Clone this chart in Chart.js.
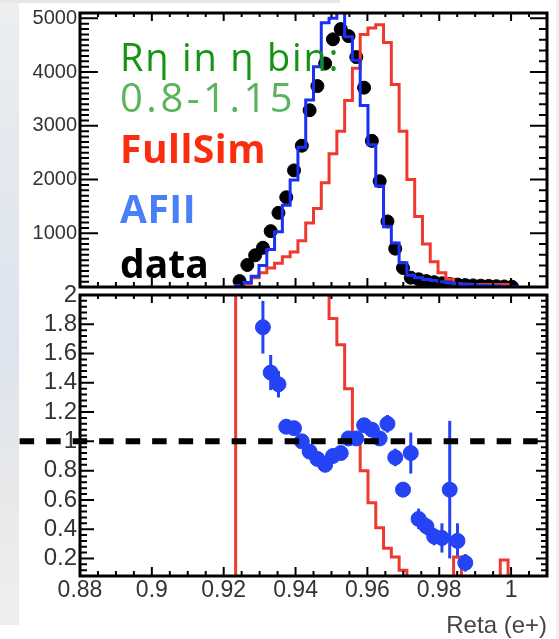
<!DOCTYPE html>
<html>
<head>
<meta charset="utf-8">
<script src="https://cdn.jsdelivr.net/npm/chart.js@4.4.1/dist/chart.umd.min.js"></script>
<style>
  html, body { margin: 0; padding: 0; background: #fff; }
  #page { position: relative; width: 559px; height: 639px; overflow: hidden; background: #fff; }
  #leftStrip { position: absolute; left: 0; top: 0; width: 19px; height: 625px;
    background: linear-gradient(to bottom, #eceef0 0%, #e3e8ef 30%, #dde4ee 55%, #e8e9ea 80%, #efefef 100%); }
  #topStrip { position: absolute; left: 0; top: 0; width: 340px; height: 3px; background: #e6e8e6; }
  #rightStrip { position: absolute; left: 556px; top: 0; width: 3px; height: 639px; background: #f2f2f2; }
  canvas { position: absolute; left: 0; }
  #upper { top: 0; }
  #lower { top: 280px; }
  .note { position: absolute; left: 120px; line-height: 1; white-space: nowrap; font-family: "Open Sans", sans-serif; }
</style>
</head>
<body>
<div id="page">
  <div id="leftStrip"></div>
  <div id="topStrip"></div>
  <div id="rightStrip"></div>
  <canvas id="upper" width="559" height="300"></canvas>
  <canvas id="lower" width="559" height="359"></canvas>
  <div class="note" style="top:37px; font-size:38px; letter-spacing:1.8px; color:#139413;">Rη in η bin:</div>
  <div class="note" style="top:77px; font-size:40px; letter-spacing:3.5px; color:#5ab45a;">0.8-1.15</div>
  <div class="note" style="top:128px; font-size:39px; font-weight:bold; letter-spacing:0.5px; color:#fa2d0f;">FullSim</div>
  <div class="note" style="top:188px; font-size:39px; font-weight:bold; letter-spacing:0.5px; color:#4a80f5;">AFII</div>
  <div class="note" style="top:243px; font-size:39px; font-weight:bold; color:#000;">data</div>
</div>
<script>
// binning of the Reta histograms (60 bins over 0.88 - 1.01), arrays start at bin 20
const binLow = 0.88;
const binWidth = 0.13 / 60;
const firstBin = 20;

const fullSimCounts = [30, 60, 174, 264, 354, 444, 563, 653, 863, 1192, 1462, 1942,
  2482, 2900, 3470, 4070, 4700, 4820, 4880, 4550, 3770, 2900, 2000, 1310,
  800, 470, 264, 144, 60, 50, 45, 45, 45, 45, 45, 0];
const afiiCounts = [30, 84, 200, 400, 700, 1030, 1520, 1990, 2600, 3480, 4100, 4920,
  5000, 5130, 4660, 4220, 3380, 2650, 1880, 1120, 820, 450, 220, 170,
  140, 120, 100, 80, 60, 50, 40, 30, 25, 20, 10, 10];
const dataCounts = [110, 410, 590, 730, 1040, 1380, 1670, 2170, 2630, 3290, 3740, 4160,
  4610, 4800, 4670, 4280, 3710, 2720, 1970, 1220, 714, 354, 174, 144,
  110, 90, 70, 55, 45, 35, 30, 25, 20, 15, 10, 5];

// lower pad: data / FullSim (red steps) and data / AFII (blue points)
const dataOverFullSim = [9, 9, 9, 9, 9, 9, 9, 9, 9, 9, 9, 9,
  1.84, 1.66, 1.36, 1.04, 0.80, 0.58, 0.41, 0.27, 0.21, 0.12, 0.05, 0.05,
  0.05, 0.05, 0.05, 0.05, 0.21, 0.05, 0.05, 0.05, 0.05, 0.05, 0.19, 0];
const dataOverAfii = [null, null, null, 1.78, 1.47, 1.39, 1.10, 1.09, 1.00, 0.93, 0.88, 0.84,
  0.90, 0.92, 1.02, 1.02, 1.11, 1.08, 1.02, 1.12, 0.89, 0.67, 0.92, 0.47,
  0.42, 0.35, 0.34, 0.67, 0.32, 0.17, null, null, null, null, null, null];
const dataOverAfiiErr = [0, 0, 0, 0.18, 0.12, 0.09, 0.05, 0.04, 0.03, 0.03, 0.02, 0.02,
  0.02, 0.02, 0.02, 0.02, 0.03, 0.03, 0.04, 0.06, 0.06, 0.05, 0.14, 0.07,
  0.06, 0.06, 0.10, 0.47, 0.12, 0.06, 0, 0, 0, 0, 0, 0];
const unityLine = [0.8632, 1.0095];

const countTicks = [1000, 2000, 3000, 4000, 5000];
const ratioTicks = [0.2, 0.4, 0.6, 0.8, 1, 1.2, 1.4, 1.6, 1.8, 2];
const retaTicks = [0.88, 0.9, 0.92, 0.94, 0.96, 0.98, 1];

const BLUE_LINE = '#1a30f5';
const BLUE_DOT = '#2443f4';
const RED = '#ee3a2e';
const TICK_FONT = 'Liberation Sans, Arial, sans-serif';

function binEdge(i) { return binLow + (firstBin + i) * binWidth; }
function binCentre(i) { return binEdge(i) + binWidth / 2; }

// histogram outline: one point per low edge, drawn with stepped 'before'
function stepPoints(values, floor) {
  const pts = [{ x: binEdge(0), y: floor }];
  values.forEach((v, i) => pts.push({ x: binEdge(i), y: v }));
  pts.push({ x: binEdge(values.length), y: floor });
  return pts;
}

// ROOT style frame with ticks drawn inside the pad
const rootFrame = {
  id: 'rootFrame',
  afterDatasetsDraw(chart, args, o) {
    const { ctx, chartArea: a, scales: { x, y } } = chart;
    const near = (list, v, eps) => list.some(m => Math.abs(m - v) < eps);
    ctx.save();
    ctx.strokeStyle = '#000';
    ctx.lineWidth = 2;
    ctx.beginPath();
    const nx = Math.round((x.max - x.min) / o.xMinor);
    for (let i = 0; i <= nx; i++) {
      const v = x.min + i * o.xMinor;
      const major = near(retaTicks, v, 1e-6);
      const px = x.getPixelForValue(v);
      ctx.moveTo(px, a.bottom);
      ctx.lineTo(px, a.bottom - (major ? o.bottomLen[0] : o.bottomLen[1]));
      ctx.moveTo(px, a.top);
      ctx.lineTo(px, a.top + (major ? o.topLen[0] : o.topLen[1]));
    }
    const side = (step, len, edge, dir) => {
      const n = Math.floor((y.max - o.yFrom) / step + 1e-6);
      for (let i = 0; i <= n; i++) {
        const v = o.yFrom + i * step;
        const major = near(o.yMajor, v, step / 100);
        const py = y.getPixelForValue(v);
        ctx.moveTo(edge, py);
        ctx.lineTo(edge + dir * (major ? len[0] : len[1]), py);
      }
    };
    side(o.leftMinor, o.leftLen, a.left, 1);
    side(o.rightMinor, o.rightLen, a.right, -1);
    ctx.stroke();
    ctx.lineWidth = 3;
    ctx.strokeRect(a.left, a.top, a.right - a.left, a.bottom - a.top);
    ctx.restore();
  }
};

const errorBars = {
  id: 'errorBars',
  beforeDatasetsDraw(chart) {
    const { ctx, chartArea: a, scales: { x, y } } = chart;
    ctx.save();
    ctx.beginPath();
    ctx.rect(a.left, a.top, a.right - a.left, a.bottom - a.top);
    ctx.clip();
    ctx.strokeStyle = BLUE_DOT;
    ctx.lineWidth = 3;
    dataOverAfii.forEach((v, i) => {
      if (v === null || !dataOverAfiiErr[i]) return;
      const px = x.getPixelForValue(binCentre(i));
      ctx.beginPath();
      ctx.moveTo(px, y.getPixelForValue(v - dataOverAfiiErr[i]));
      ctx.lineTo(px, y.getPixelForValue(v + dataOverAfiiErr[i]));
      ctx.stroke();
    });
    ctx.restore();
  }
};

const tickFont = size => ({ family: TICK_FONT, size: size, lineHeight: 1 });

const upper = new Chart(document.getElementById('upper'), {
  type: 'line',
  data: {
    datasets: [
      {
        label: 'AFII',
        data: stepPoints(afiiCounts, 0),
        stepped: 'before',
        borderColor: BLUE_LINE,
        borderWidth: 3,
        pointRadius: 0,
        order: 0
      },
      {
        label: 'FullSim',
        data: stepPoints(fullSimCounts, 0),
        stepped: 'before',
        borderColor: RED,
        borderWidth: 3,
        pointRadius: 0,
        order: 1
      },
      {
        label: 'data',
        type: 'scatter',
        data: dataCounts.map((v, i) => ({ x: binCentre(i), y: v })),
        showLine: false,
        pointRadius: 6.5,
        pointBackgroundColor: '#000',
        pointBorderColor: '#000',
        order: 2
      }
    ]
  },
  options: {
    responsive: false,
    animation: false,
    events: [],
    layout: { padding: { top: 11, right: 12, bottom: 7, left: 0 } },
    plugins: {
      legend: { display: false },
      tooltip: { enabled: false },
      rootFrame: {
        xMinor: 0.005, topLen: [8, 4], bottomLen: [9, 5],
        yFrom: 0, yMajor: countTicks,
        leftMinor: 100, leftLen: [18, 9],
        rightMinor: 200, rightLen: [17, 8]
      }
    },
    scales: {
      x: { type: 'linear', min: 0.88, max: 1.01, display: false },
      y: {
        min: 0,
        max: 5100,
        afterFit: s => { s.width = 80; },
        afterBuildTicks: s => { s.ticks = countTicks.map(v => ({ value: v })); },
        grid: { display: false, drawTicks: false },
        border: { display: false },
        ticks: { padding: 3, color: '#333', font: tickFont(20), callback: v => String(v) }
      }
    }
  },
  plugins: [rootFrame]
});

const lower = new Chart(document.getElementById('lower'), {
  type: 'line',
  data: {
    datasets: [
      {
        label: 'unity',
        data: unityLine.map(v => ({ x: v, y: 1 })),
        borderColor: '#000',
        borderWidth: 6,
        borderDash: [14.5, 12],
        pointRadius: 0,
        clip: false,
        order: 0
      },
      {
        label: 'data / AFII',
        type: 'scatter',
        data: dataOverAfii.map((v, i) => ({ x: binCentre(i), y: v })).filter(p => p.y !== null),
        showLine: false,
        pointRadius: 7.5,
        pointBackgroundColor: BLUE_DOT,
        pointBorderColor: BLUE_DOT,
        order: 1
      },
      {
        label: 'data / FullSim',
        data: stepPoints(dataOverFullSim, 0),
        stepped: 'before',
        borderColor: RED,
        borderWidth: 3,
        pointRadius: 0,
        order: 2
      }
    ]
  },
  options: {
    responsive: false,
    animation: false,
    events: [],
    layout: { padding: { top: 14, right: 12, bottom: 0, left: 0 } },
    plugins: {
      legend: { display: false },
      tooltip: { enabled: false },
      rootFrame: {
        xMinor: 0.005, topLen: [8, 4], bottomLen: [9, 5],
        yFrom: 0.08, yMajor: ratioTicks,
        leftMinor: 0.04, leftLen: [14, 7],
        rightMinor: 0.04, rightLen: [11, 6]
      }
    },
    scales: {
      x: {
        type: 'linear',
        min: 0.88,
        max: 1.01,
        afterFit: s => { s.height = 63; },
        afterBuildTicks: s => { s.ticks = retaTicks.map(v => ({ value: v })); },
        grid: { display: false, drawTicks: false },
        border: { display: false },
        ticks: { padding: 3, color: '#333', font: tickFont(23), maxRotation: 0, autoSkip: false, callback: v => String(v) },
        title: {
          display: true,
          text: 'Reta (e+)',
          align: 'end',
          color: '#444',
          font: { family: TICK_FONT, size: 24, lineHeight: 1 },
          padding: { top: 0, bottom: 1 }
        }
      },
      y: {
        min: 0.08,
        max: 2,
        afterFit: s => { s.width = 80; },
        afterBuildTicks: s => { s.ticks = ratioTicks.map(v => ({ value: v })); },
        grid: { display: false, drawTicks: false },
        border: { display: false },
        ticks: { padding: 3, color: '#333', font: tickFont(24), callback: v => String(v) }
      }
    }
  },
  plugins: [errorBars, rootFrame]
});
</script>
</body>
</html>
